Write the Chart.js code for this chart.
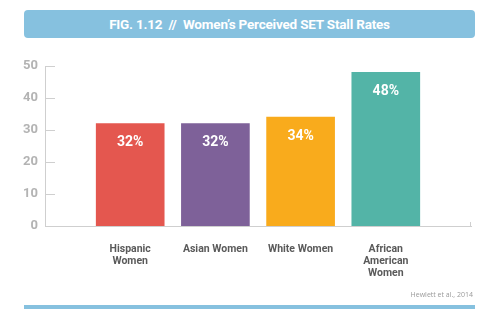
<!DOCTYPE html>
<html>
<head>
<meta charset="utf-8">
<script src="https://cdn.jsdelivr.net/npm/chart.js@4"></script>
<style>
  html, body { margin: 0; padding: 0; background: #fff; }
  #wrap { position: relative; width: 500px; height: 332px; overflow: hidden; }
  #chart { position: absolute; left: 0; top: 0; }
  .banner {
    position: absolute; left: 24px; top: 10px; width: 451px; height: 28px;
    background: #86c1df; border-radius: 4px; color: #fff;
    font: bold 13.5px Roboto, sans-serif; line-height: 28px; text-align: center;
    letter-spacing: -0.2px;
  }
  .source {
    position: absolute; right: 27px; top: 290px;
    font: 7px "Open Sans", sans-serif; color: #9a9a9a;
  }
  .rule {
    position: absolute; left: 24px; top: 305px; width: 451px; height: 4px;
    background: #86c1df;
  }
</style>
</head>
<body>
<div id="wrap">
  <canvas id="chart" width="500" height="332"></canvas>
  <div class="banner">FIG. 1.12&nbsp; //&nbsp; Women’s Perceived SET Stall Rates</div>
  <div class="source">Hewlett et al., 2014</div>
  <div class="rule"></div>
</div>
<script>
// Stall rates by group (percent)
const groups = [['Hispanic', 'Women'], 'Asian Women', 'White Women', ['African', 'American', 'Women']];
const stallRates = [32, 32, 34, 48];
const barColors = ['#e4574f', '#7e6199', '#f9ab1c', '#53b4a7'];
const yTicks = [0, 10, 20, 30, 40, 50];

// empty slots at both ends so the bars sit one step in from the axis ends
const labels = ['', ...groups, ''];
const values = [null, ...stallRates, null];
const colors = ['#fff', ...barColors, '#fff'];

const AXIS_GRAY = '#cfcfcf';

// short inward tick marks on the y axis + small end tick on the x axis
const axisTicks = {
  id: 'axisTicks',
  afterDraw(chart) {
    const { ctx, chartArea, scales } = chart;
    ctx.save();
    ctx.strokeStyle = AXIS_GRAY;
    ctx.lineWidth = 1;
    yTicks.forEach(v => {
      if (v === 0) return;
      const y = Math.round(scales.y.getPixelForValue(v)) + 0.5;
      ctx.beginPath();
      ctx.moveTo(chartArea.left, y);
      ctx.lineTo(chartArea.left + 10, y);
      ctx.stroke();
    });
    const xr = Math.round(chartArea.right) - 0.5;
    ctx.beginPath();
    ctx.moveTo(xr, chartArea.bottom);
    ctx.lineTo(xr, chartArea.bottom - 4);
    ctx.stroke();
    ctx.restore();
  }
};

// percentage text inside the top of each bar
const barValues = {
  id: 'barValues',
  afterDatasetsDraw(chart) {
    const { ctx } = chart;
    const meta = chart.getDatasetMeta(0);
    ctx.save();
    ctx.fillStyle = '#fff';
    ctx.font = 'bold 14px Roboto, sans-serif';
    ctx.textAlign = 'center';
    ctx.textBaseline = 'middle';
    meta.data.forEach((bar, i) => {
      const v = values[i];
      if (v == null) return;
      ctx.fillText(v + '%', bar.x, bar.y + 19);
    });
    ctx.restore();
  }
};

new Chart(document.getElementById('chart'), {
  type: 'bar',
  data: {
    labels: labels,
    datasets: [{
      data: values,
      backgroundColor: colors,
      barThickness: 68
    }]
  },
  options: {
    responsive: false,
    animation: false,
    layout: { padding: { left: 0, top: 66, right: 29, bottom: 0 } },
    plugins: {
      legend: { display: false },
      tooltip: { enabled: false }
    },
    scales: {
      x: {
        offset: false,
        grid: { display: false },
        border: { display: true, color: AXIS_GRAY, width: 1 },
        ticks: {
          color: '#5a5a5a',
          font: { family: 'Roboto, sans-serif', size: 10.5, weight: 'bold', lineHeight: 1.17 },
          padding: 9,
          maxRotation: 0,
          autoSkip: false
        },
        afterFit(scale) { scale.height = 106; }
      },
      y: {
        min: 0,
        max: 50,
        afterBuildTicks(scale) { scale.ticks = yTicks.map(v => ({ value: v })); },
        grid: { display: false, drawTicks: false },
        border: { display: true, color: AXIS_GRAY, width: 1 },
        ticks: {
          color: '#b3b3b3',
          font: { family: 'Roboto, sans-serif', size: 13, weight: 'bold' },
          padding: 7
        },
        afterFit(scale) { scale.width = 45; }
      }
    }
  },
  plugins: [axisTicks, barValues]
});
</script>
</body>
</html>
